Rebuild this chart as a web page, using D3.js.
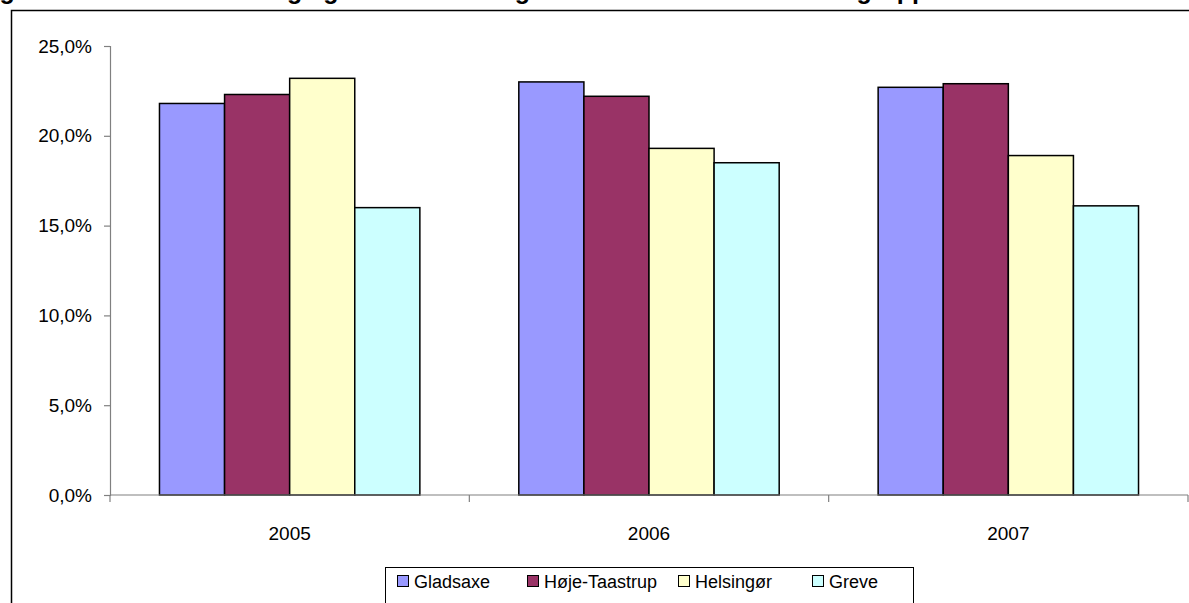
<!DOCTYPE html>
<html>
<head>
<meta charset="utf-8">
<script src="https://cdn.jsdelivr.net/npm/d3@7"></script>
<style>
  html, body { margin: 0; padding: 0; background: #fff; }
  svg { display: block; font-family: "Liberation Sans", Arial, sans-serif; }
</style>
</head>
<body>
<svg id="chart" width="1189" height="603"></svg>
<script>
const categories = ["2005", "2006", "2007"];
const seriesNames = ["Gladsaxe", "Høje-Taastrup", "Helsingør", "Greve"];
const gladsaxe = [21.8, 23.0, 22.7];
const hojeTaastrup = [22.3, 22.2, 22.9];
const helsingor = [23.2, 19.3, 18.9];
const greve = [16.0, 18.5, 16.1];
const yTicks = [0, 5, 10, 15, 20, 25];
const colors = ["#9999FF", "#993366", "#FFFFCC", "#CCFFFF"];
const titleText = "Aldersfordeling af danskerne. Udvikling i gennemsnittet i grundskolen i de kommuner grupperet efter år";

const seriesValues = [gladsaxe, hojeTaastrup, helsingor, greve];
const data = categories.map((c, i) => ({
  cat: c,
  vals: seriesNames.map((s, j) => ({ key: s, value: seriesValues[j][i], color: colors[j] }))
}));

const svg = d3.select("#chart");

// Title (clipped at the top edge, only descenders visible)
svg.append("text")
  .attr("x", -170).attr("y", -1.5)
  .attr("font-size", 25).attr("font-weight", "bold")
  .attr("font-family", "'Liberation Sans', Arial, sans-serif")
  .attr("fill", "#000")
  .text(titleText);

// Chart area border
svg.append("rect")
  .attr("x", 11.5).attr("y", 10.5)
  .attr("width", 1200).attr("height", 620)
  .attr("fill", "#fff").attr("stroke", "#000").attr("stroke-width", 1.5);

const plot = { left: 110, right: 1188, top: 46, bottom: 495 };

const x0 = d3.scaleBand().domain(categories).range([plot.left, plot.right]).paddingInner(0).paddingOuter(0);
const x1 = d3.scaleBand().domain(seriesNames).range([0, x0.bandwidth()]).paddingInner(0).paddingOuter(0.76);
const y = d3.scaleLinear().domain([0, 25]).range([plot.bottom, plot.top]);

// Bars
const g = svg.append("g");
const groups = g.selectAll("g.cat").data(data).join("g")
  .attr("transform", d => `translate(${x0(d.cat)},0)`);
groups.selectAll("rect").data(d => d.vals).join("rect")
  .attr("x", d => x1(d.key))
  .attr("y", d => y(d.value))
  .attr("width", x1.bandwidth())
  .attr("height", d => y(0) - y(d.value))
  .attr("fill", d => d.color)
  .attr("stroke", "#000").attr("stroke-width", 1.5);

// Y axis
const yAxis = d3.axisLeft(y).tickValues(yTicks).tickSize(6).tickPadding(12)
  .tickFormat(d => d3.format(".1f")(d).replace(".", ",") + "%");
const ya = svg.append("g").attr("transform", `translate(${plot.left},0)`).call(yAxis);
ya.select(".domain").attr("stroke", "#808080").attr("stroke-width", 1.2);
ya.selectAll(".tick line").attr("stroke", "#808080").attr("stroke-width", 1.2);
ya.selectAll(".tick text").attr("font-size", 19).attr("fill", "#000")
  .attr("font-family", "'Liberation Sans', Arial, sans-serif");

// X axis
const xa = svg.append("g").attr("transform", `translate(0,${plot.bottom})`);
xa.append("line").attr("x1", plot.left).attr("x2", plot.right)
  .attr("stroke", "#808080").attr("stroke-width", 1.2);
const boundaries = categories.map(c => x0(c)).concat([x0(categories[categories.length - 1]) + x0.bandwidth()]);
xa.selectAll("line.tk").data(boundaries).join("line").attr("class", "tk")
  .attr("x1", d => d).attr("x2", d => d).attr("y1", 0).attr("y2", 7)
  .attr("stroke", "#808080").attr("stroke-width", 1.2);
xa.selectAll("text").data(categories).join("text")
  .attr("x", d => x0(d) + x0.bandwidth() / 2)
  .attr("y", 45)
  .attr("text-anchor", "middle")
  .attr("font-size", 19).attr("fill", "#000")
  .text(d => d);

// Legend
const legend = svg.append("g");
legend.append("rect")
  .attr("x", 385.5).attr("y", 567.5).attr("width", 528).attr("height", 60)
  .attr("fill", "#fff").attr("stroke", "#000").attr("stroke-width", 1);
const legendX = [397, 527, 678, 812];
const li = legend.selectAll("g.item").data(seriesNames).join("g").attr("class", "item")
  .attr("transform", (d, i) => `translate(${legendX[i]},581)`);
li.append("rect").attr("x", 0.5).attr("y", -5.5).attr("width", 11).attr("height", 11)
  .attr("fill", (d, i) => colors[i]).attr("stroke", "#000").attr("stroke-width", 1);
li.append("text").attr("x", 17).attr("y", 7)
  .attr("font-size", 18).attr("fill", "#000").text(d => d);
</script>
</body>
</html>
